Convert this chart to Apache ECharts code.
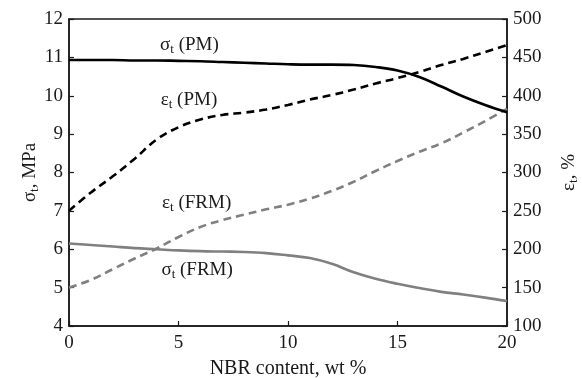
<!DOCTYPE html>
<html>
<head>
<meta charset="utf-8">
<script src="https://cdn.jsdelivr.net/npm/echarts@6/dist/echarts.min.js"></script>
<style>
  html, body { margin: 0; padding: 0; background: #fff; }
  #chart { width: 582px; height: 378px; }
</style>
</head>
<body>
<div id="chart"></div>
<script>
const nbrContent = [0, 1, 2, 3, 4, 5, 6, 7, 8, 9, 10, 11, 12, 13, 14, 15, 16, 17, 18, 19, 20];
const sigmaPM = [10.93, 10.93, 10.93, 10.92, 10.92, 10.91, 10.9, 10.88, 10.86, 10.84, 10.82, 10.81, 10.81, 10.8, 10.75, 10.66, 10.49, 10.24, 9.98, 9.76, 9.57];
const sigmaFRM = [6.15, 6.11, 6.07, 6.03, 6.0, 5.97, 5.95, 5.94, 5.93, 5.9, 5.84, 5.77, 5.62, 5.4, 5.23, 5.1, 4.99, 4.89, 4.82, 4.74, 4.65];
const epsPM = [250, 274, 295, 318, 343, 359, 369, 375, 378, 382, 388, 395, 401, 408, 416, 423, 431, 440, 448, 457, 466];
const epsFRM = [150, 160, 174, 188, 201, 216, 229, 238, 245, 252, 258, 266, 276, 288, 302, 315, 327, 338, 352, 367, 383];

// curve captions: [x, y on left axis, symbol, subscript, suffix]
const captions = [
  [5.5, 11.32, "σ", "t", " (PM)"],
  [5.48, 9.89, "ε", "t", " (PM)"],
  [5.83, 7.2, "ε", "t", " (FRM)"],
  [5.85, 5.46, "σ", "t", " (FRM)"],
];

const serif = "Liberation Serif";
const ink = "#1a1a1a";
const richText = {
  m: { fontFamily: serif, fontSize: 19, color: ink, lineHeight: 22, verticalAlign: "middle", textBorderWidth: 0 },
  s: { fontFamily: serif, fontSize: 13, color: ink, lineHeight: 12, verticalAlign: "bottom", textBorderWidth: 0 },
};

function pairs(ys) {
  return nbrContent.map((x, i) => [x, ys[i]]);
}

function lineSeries(name, ys, axisIndex, color, dashed) {
  return {
    name,
    type: "line",
    yAxisIndex: axisIndex,
    smooth: 0.4,
    showSymbol: false,
    data: pairs(ys),
    lineStyle: { color, width: 2.6, type: dashed ? [8, 5] : "solid" },
    z: dashed ? 3 : 4,
  };
}

function axisBase() {
  return {
    axisLine: { show: true, lineStyle: { color: ink, width: 1.5 } },
    axisTick: { show: true, inside: true, length: 5, lineStyle: { color: ink, width: 1.2 } },
    splitLine: { show: false },
    axisLabel: { fontFamily: serif, fontSize: 19, color: ink },
    nameMoveOverlap: false,
  };
}

const chart = echarts.init(document.getElementById("chart"));
chart.setOption({
  animation: false,
  grid: {
    left: 69, right: 75, top: 19, bottom: 52,
    outerBoundsMode: "none",
    containLabel: false,
    show: true, borderColor: ink, borderWidth: 1.5,
  },
  xAxis: {
    ...axisBase(),
    type: "value",
    min: 0,
    max: 20,
    interval: 5,
    name: "NBR content, wt %",
    nameLocation: "middle",
    nameGap: 33,
    nameTextStyle: { fontFamily: serif, fontSize: 20, color: ink },
    axisLabel: { fontFamily: serif, fontSize: 19, color: ink, margin: 8 },
  },
  yAxis: [
    {
      ...axisBase(),
      type: "value",
      position: "left",
      min: 4,
      max: 12,
      interval: 1,
      name: "{m|σ}{s|t}{m|, MPa}",
      nameLocation: "middle",
      nameRotate: 90,
      nameGap: 28,
      nameTextStyle: { rich: richText },
      axisLabel: { fontFamily: serif, fontSize: 19, color: ink, margin: 6 },
    },
    {
      ...axisBase(),
      type: "value",
      position: "right",
      min: 100,
      max: 500,
      interval: 50,
      name: "{m|ε}{s|t}{m|, %}",
      nameLocation: "middle",
      nameRotate: 90,
      nameGap: 51,
      nameTextStyle: { rich: richText },
      axisLabel: { fontFamily: serif, fontSize: 19, color: ink, margin: 6 },
    },
  ],
  series: [
    lineSeries("σt (PM)", sigmaPM, 0, "#000000", false),
    lineSeries("εt (PM)", epsPM, 1, "#000000", true),
    lineSeries("εt (FRM)", epsFRM, 1, "#808080", true),
    lineSeries("σt (FRM)", sigmaFRM, 0, "#808080", false),
    {
      type: "scatter",
      yAxisIndex: 0,
      symbolSize: 0,
      itemStyle: { opacity: 1 },
      data: captions.map((c) => ({ value: [c[0], c[1]], parts: c })),
      label: {
        show: true,
        position: "inside",
        color: ink,
        opacity: 1,
        textBorderWidth: 0,
        textBorderColor: "transparent",
        formatter: (p) => `{m|${p.data.parts[2]}}{s|${p.data.parts[3]}}{m|${p.data.parts[4]}}`,
        rich: richText,
      },
      silent: true,
      z: 10,
    },
  ],
});
</script>
</body>
</html>
